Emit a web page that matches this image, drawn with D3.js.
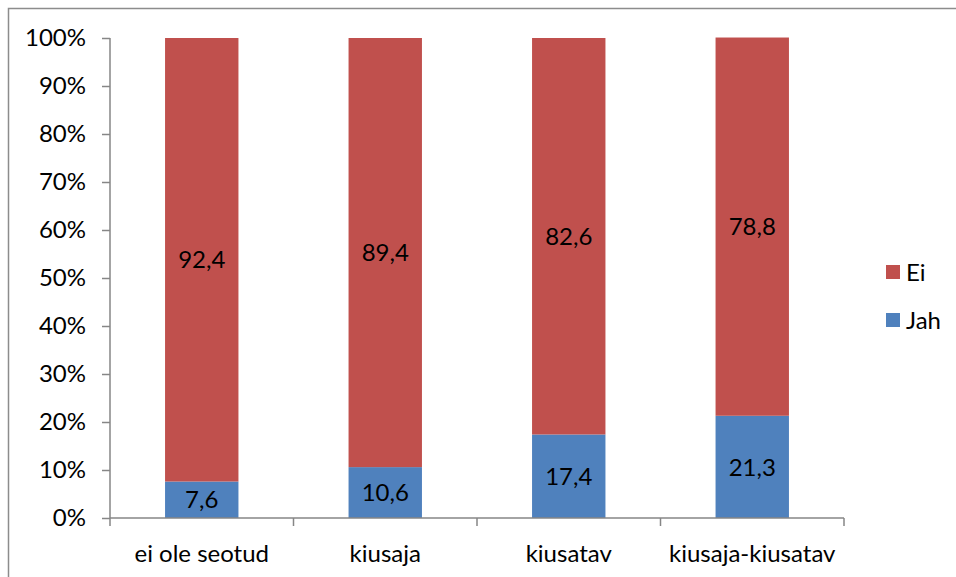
<!DOCTYPE html>
<html lang="et">
<head>
    <meta charset="UTF-8">
    <title>Jah / Ei</title>
    <script src="https://cdnjs.cloudflare.com/ajax/libs/d3/7.8.5/d3.min.js"></script>
    <style>
        body { margin: 0; background: #fff; }
        text { font-family: Lato, "Open Sans", sans-serif; fill: #000; }
    </style>
</head>
<body>
    <script>
        // categories and values (percent)
        var categories = ["ei ole seotud", "kiusaja", "kiusatav", "kiusaja-kiusatav"];
        var jah = [7.6, 10.6, 17.4, 21.3];
        var ei = [92.4, 89.4, 82.6, 78.8];
        var yTicks = [0, 10, 20, 30, 40, 50, 60, 70, 80, 90, 100];
        var seriesNames = ["Jah", "Ei"];
        var colors = {"Jah": "#4f81bd", "Ei": "#c0504d"};

        var svg = d3.select("body").append("svg")
            .attr("width", 956)
            .attr("height", 577);

        // outer frame (only top/left visible in the picture)
        svg.append("rect")
            .attr("x", 8.5).attr("y", 8.5)
            .attr("width", 1200).attr("height", 1200)
            .attr("fill", "none")
            .attr("stroke", "#8c8c8c")
            .attr("stroke-width", 1.5);

        var plotLeft = 110, plotRight = 844, plotTop = 38, plotBottom = 518;
        var fs = "24px";

        var x = d3.scaleBand().domain(categories).range([plotLeft, plotRight]).paddingInner(0.6).paddingOuter(0.3);
        var xb = d3.scaleBand().domain(categories).range([plotLeft, plotRight]);
        var y = d3.scaleLinear().domain([0, 100]).range([plotBottom, plotTop]);

        // stacked data
        var rows = categories.map(function(c, i) {
            return {cat: c, Jah: jah[i], Ei: ei[i]};
        });
        var stack = d3.stack().keys(seriesNames)(rows);

        var groups = svg.selectAll("g.series")
            .data(stack)
            .enter().append("g")
            .attr("class", "series")
            .attr("fill", function(d) { return colors[d.key]; });

        groups.selectAll("rect")
            .data(function(d) { return d; })
            .enter().append("rect")
            .attr("x", function(d) { return x(d.data.cat); })
            .attr("width", x.bandwidth())
            .attr("y", function(d) { return y(d[1]); })
            .attr("height", function(d) { return y(d[0]) - y(d[1]); });

        // value labels
        groups.selectAll("text")
            .data(function(d) { return d.map(function(p) { return {p: p, key: d.key}; }); })
            .enter().append("text")
            .attr("x", function(d) { return x(d.p.data.cat) + x.bandwidth() / 2; })
            .attr("y", function(d) { return (y(d.p[0]) + y(d.p[1])) / 2; })
            .attr("dy", "0.36em")
            .attr("text-anchor", "middle")
            .style("font-size", fs)
            .text(function(d) { return d3.format(".1f")(d.p.data[d.key]).replace(".", ","); });

        // y axis
        var yAxis = svg.append("g")
            .attr("transform", "translate(" + plotLeft + ",0)")
            .call(d3.axisLeft(y).tickValues(yTicks).tickSize(8).tickPadding(16)
                .tickFormat(function(d) { return d + "%"; }));
        yAxis.selectAll("path, line").attr("stroke", "#868686").attr("stroke-width", 1.5);
        yAxis.select("path").attr("d", "M0," + plotTop + "V" + plotBottom);
        yAxis.selectAll("text").style("font-size", fs).attr("fill", "#000");

        // x axis: line plus ticks at category boundaries
        var xg = svg.append("g");
        xg.append("line")
            .attr("x1", plotLeft).attr("x2", plotRight)
            .attr("y1", plotBottom).attr("y2", plotBottom)
            .attr("stroke", "#868686").attr("stroke-width", 1.5);
        var bounds = categories.map(function(c) { return xb(c); }).concat([plotRight]);
        xg.selectAll("line.tk")
            .data(bounds)
            .enter().append("line")
            .attr("class", "tk")
            .attr("x1", function(d) { return d; }).attr("x2", function(d) { return d; })
            .attr("y1", plotBottom).attr("y2", plotBottom + 8)
            .attr("stroke", "#868686").attr("stroke-width", 1.5);
        xg.selectAll("text")
            .data(categories)
            .enter().append("text")
            .attr("x", function(d) { return xb(d) + xb.bandwidth() / 2; })
            .attr("y", 553)
            .attr("dy", "0.36em")
            .attr("text-anchor", "middle")
            .style("font-size", fs)
            .text(function(d) { return d; });

        // legend
        var legendItems = ["Ei", "Jah"];
        var legend = svg.selectAll("g.legend")
            .data(legendItems)
            .enter().append("g")
            .attr("class", "legend")
            .attr("transform", function(d, i) { return "translate(886," + (265 + i * 48) + ")"; });
        legend.append("rect")
            .attr("width", 14).attr("height", 14)
            .attr("fill", function(d) { return colors[d]; });
        legend.append("text")
            .attr("x", 20).attr("y", 7)
            .attr("dy", "0.36em")
            .style("font-size", fs)
            .text(function(d) { return d; });
    </script>
</body>
</html>
